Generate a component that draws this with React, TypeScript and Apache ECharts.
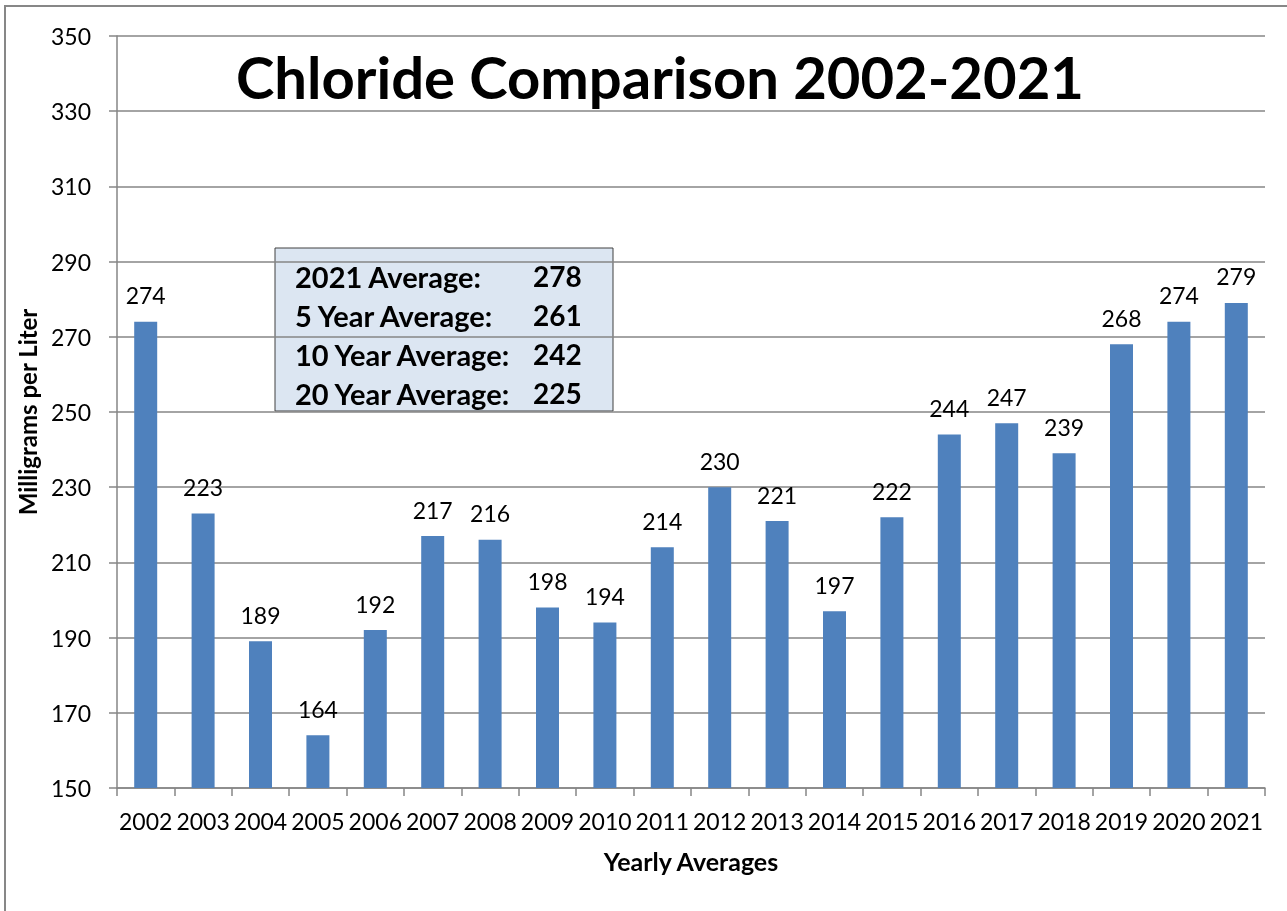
import React, { useEffect, useRef } from "react";
import * as echarts from "echarts";

const years = ["2002", "2003", "2004", "2005", "2006", "2007", "2008", "2009", "2010", "2011", "2012", "2013", "2014", "2015", "2016", "2017", "2018", "2019", "2020", "2021"];
const chloride = [274, 223, 189, 164, 192, 217, 216, 198, 194, 214, 230, 221, 197, 222, 244, 247, 239, 268, 274, 279];
const yMin = 150;
const yMax = 350;
const yStep = 20;
const summaryLabels = ["2021 Average:", "5 Year Average:", "10 Year Average:", "20 Year Average:"];
const summaryValues = ["278", "261", "242", "225"];

const FONT = "Lato, 'Noto Sans', sans-serif";

export default function App() {
  const ref = useRef<HTMLDivElement>(null);
  useEffect(() => {
    const chart = echarts.init(ref.current!, undefined, { renderer: "svg" });
    const lineYs = [279, 318, 357, 396];
    const boxTexts: any[] = [];
    summaryLabels.forEach((t, i) => {
      boxTexts.push({
        type: "text",
        left: 295,
        top: lineYs[i] - 17,
        style: { text: t, fill: "#000", font: `bold 29px ${FONT}` },
      });
      boxTexts.push({
        type: "text",
        left: 533,
        top: lineYs[i] - 17,
        style: { text: summaryValues[i], fill: "#000", font: `bold 28px ${FONT}` },
      });
    });
    chart.setOption({
      animation: false,
      grid: { left: 117, right: 22, top: 36, bottom: 123, containLabel: false },
      xAxis: {
        type: "category",
        data: years,
        name: "Yearly Averages",
        nameLocation: "middle",
        nameGap: 60,
        nameTextStyle: { fontFamily: FONT, fontWeight: "bold", fontSize: 25, color: "#000" },
        axisLine: { lineStyle: { color: "#868686", width: 1.5 } },
        axisTick: { show: true, length: 8, lineStyle: { color: "#868686", width: 1.5 } },
        axisLabel: { fontFamily: FONT, fontSize: 23, color: "#000", margin: 21, interval: 0 },
      },
      yAxis: {
        type: "value",
        min: yMin,
        max: yMax,
        interval: yStep,
        name: "Milligrams per Liter",
        nameLocation: "middle",
        nameGap: 78,
        nameTextStyle: { fontFamily: FONT, fontWeight: "bold", fontSize: 24, color: "#000" },
        axisLine: { show: true, lineStyle: { color: "#868686", width: 1.5 } },
        axisTick: { show: true, length: 8, lineStyle: { color: "#868686", width: 1.5 } },
        axisLabel: { fontFamily: FONT, fontSize: 23, color: "#000", margin: 26 },
        splitLine: { lineStyle: { color: "#868686", width: 1.5 } },
      },
      series: [
        {
          type: "bar",
          data: chloride,
          barWidth: 23,
          itemStyle: { color: "#4f81bd" },
          label: {
            show: true,
            position: "top",
            distance: 15,
            fontFamily: FONT,
            fontSize: 23,
            color: "#000",
          },
        },
      ],
      graphic: [
        {
          type: "rect",
          shape: { x: 5, y: 6, width: 1400, height: 1000 },
          style: { fill: "none", stroke: "#878787", lineWidth: 2 },
          silent: true,
        },
        {
          type: "text",
          left: 236,
          top: 47,
          style: { text: "Chloride Comparison 2002-2021", fill: "#000", font: `bold 58px ${FONT}` },
        },
        {
          type: "rect",
          shape: { x: 275, y: 248, width: 338, height: 163 },
          style: { fill: "#dce6f2", stroke: "#404040", lineWidth: 1 },
        },
        ...boxTexts,
      ],
    });
    return () => chart.dispose();
  }, []);
  return <div ref={ref} style={{ position: "fixed", left: 0, top: 0, width: 1287, height: 911 }} />;
}
